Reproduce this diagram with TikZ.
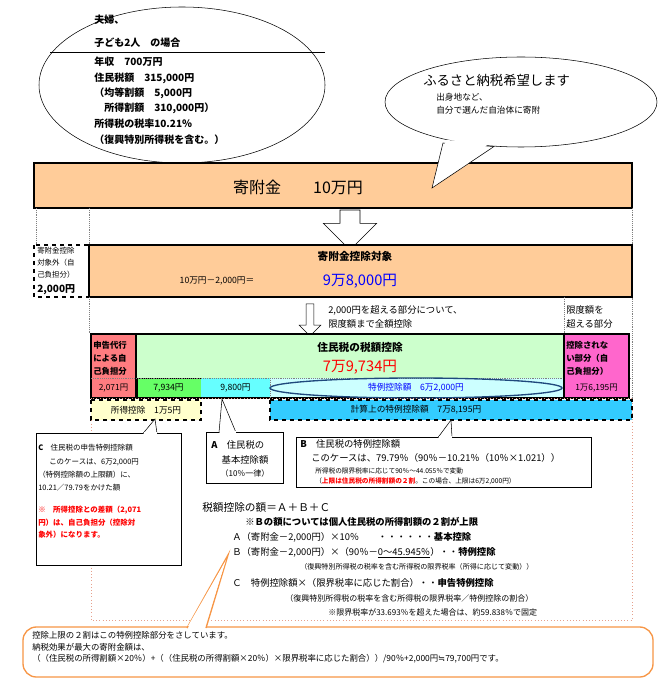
\documentclass[tikz,border=0pt]{standalone}
\usepackage{fontspec}
\setmainfont{Noto Sans CJK JP}
\newfontfamily\symfont{DejaVu Sans}
\usepackage{tikz}
\usetikzlibrary{shapes.arrows}
\definecolor{barorange}{HTML}{FFCC99}
\definecolor{taxgreen}{HTML}{CCFFCC}
\definecolor{midgreen}{HTML}{66FF66}
\definecolor{midcyan}{HTML}{66FFFF}
\definecolor{palecyan}{HTML}{CCFFFF}
\definecolor{skyblue}{HTML}{33CCFF}
\definecolor{ownred}{HTML}{FF7C80}
\definecolor{ownpink}{HTML}{FF66CC}
\definecolor{paleyellow}{HTML}{FFFFCC}
\definecolor{calloutorange}{HTML}{F79646}
\definecolor{rimred}{HTML}{E6A08C}
\begin{document}
\begin{tikzpicture}[x=0.75pt,y=-0.75pt,
  txt/.style={anchor=west,inner sep=0pt,font=\fontsize{7}{8}\selectfont},
  small/.style={anchor=west,inner sep=0pt,font=\fontsize{5.6}{6}\selectfont},
  mid/.style={anchor=center,inner sep=0pt,font=\fontsize{7.5}{8}\selectfont},
  cell/.style={draw,line width=0.4pt}]
\useasboundingbox (0,0) rectangle (664,680);
\fill[white] (0,0) rectangle (664,680);
% family ellipse
\draw (182,85) ellipse (143 and 78);
\draw (50,52) -- (325,52);
\node[txt,font=\fontsize{7.5}{8}\selectfont\bfseries] (fam1) at (94,20) {夫婦、};
\node[txt,font=\fontsize{7.5}{8}\selectfont\bfseries] (fam2) at (94,43) {子ども2人　の場合};
\node[txt,font=\fontsize{7.5}{8}\selectfont\bfseries] (fam3) at (94,62) {年収　700万円};
\node[txt,font=\fontsize{7.5}{8}\selectfont\bfseries] (fam4) at (94,78) {住民税額　315,000円};
\node[txt,font=\fontsize{7.5}{8}\selectfont\bfseries] (fam5) at (94,93) {（均等割額　5,000円};
\node[txt,font=\fontsize{7.5}{8}\selectfont\bfseries] (fam6) at (94,108) {\quad 所得割額　310,000円）};
\node[txt,font=\fontsize{7.5}{8}\selectfont\bfseries] (fam7) at (94,124) {所得税の税率10.21％};
\node[txt,font=\fontsize{7.5}{8}\selectfont\bfseries] (fam8) at (94,140) {（復興特別所得税を含む。）};
% donation bar
\draw[fill=barorange,line width=0.8pt] (34,163) rectangle (632,208);
\node[mid,font=\fontsize{12}{13}\selectfont] (gift) at (298,187) {寄附金\qquad 10万円};
% wish callout
\draw[fill=white] (443,143) -- (432,188) -- (494,146.5) -- cycle;
\draw[fill=white] (521,102) ellipse (136 and 45);
\fill[white] (446,140) -- (434,183) -- (490,143) -- cycle;
\node[txt,font=\fontsize{10}{11}\selectfont] (wish) at (423,80) {ふるさと納税希望します};
\node[small,font=\fontsize{6.5}{7}\selectfont] (wish1) at (436,97) {出身地など、};
\node[small,font=\fontsize{6.5}{7}\selectfont] (wish2) at (436,110) {自分で選んだ自治体に寄附};
\draw[densely dotted,gray] (36,208) -- (36,245) (89,208) -- (89,245) (632,208) -- (632,400);
\node[single arrow,draw,fill=white,shape border rotate=270,minimum height=30pt,minimum width=40pt,single arrow head extend=7pt,inner sep=4pt] (down1) at (350,225) {};
% deduction target
\draw[dashed,line width=1pt,fill=white] (34,245) rectangle (89,297);
\node[small] (out1) at (37,251) {寄附金控除};
\node[small] (out2) at (37,263) {対象外（自};
\node[small] (out3) at (37,275) {己負担分）};
\node[txt,font=\fontsize{7.5}{8}\selectfont\bfseries] (out4) at (37,290) {2,000円};
\draw[fill=barorange,line width=0.8pt] (89,245) rectangle (632,297);
\node[mid,font=\fontsize{8}{9}\selectfont\bfseries] (target) at (355,256) {寄附金控除対象};
\node[mid,font=\fontsize{6.5}{7}\selectfont] (calc) at (217,281) {10万円－2,000円＝};
\node[mid,font=\fontsize{11}{12}\selectfont,text=blue] (net) at (360,281) {9万8,000円};
\draw[densely dotted,gray] (89,297) -- (89,334) (564,297) -- (564,334);
\node[single arrow,draw,fill=white,shape border rotate=270,minimum height=24pt,minimum width=16pt,single arrow head extend=4pt,inner sep=2pt] (down2) at (310,318) {};
\node[txt] (over1) at (328,310) {2,000円を超える部分について、};
\node[txt] (over2) at (328,324) {限度額まで全額控除};
\node[txt] (lim1) at (566,310) {限度額を};
\node[txt] (lim2) at (566,324) {超える部分};
% tax credit row
\draw[fill=ownred,line width=0.8pt] (91,334) rectangle (136,398);
\node[small,font=\fontsize{6.3}{7}\selectfont\bfseries] (self1) at (93,345) {申告代行};
\node[small,font=\fontsize{6.3}{7}\selectfont\bfseries] (self2) at (93,358) {による自};
\node[small,font=\fontsize{6.3}{7}\selectfont\bfseries] (self3) at (93,371) {己負担分};
\node[mid,font=\fontsize{6.3}{7}\selectfont] (selfv) at (113.5,388) {2,071円};
\draw[fill=taxgreen,line width=1.2pt] (136,334) rectangle (564,398);
\node[mid,font=\fontsize{8}{9}\selectfont\bfseries] (credit) at (360,347) {住民税の税額控除};
\node[mid,font=\fontsize{11}{12}\selectfont,text=red] (creditv) at (360,367) {7万9,734円};
\draw[fill=midgreen] (137,378) rectangle (201,397);
\draw[fill=midcyan,draw=none] (201,378) rectangle (270,397);
\draw[fill=palecyan,draw=none] (270,378) rectangle (563,397);
\draw[densely dotted,gray] (91,378) -- (632,378) (270,378) -- (270,397);
\node[mid,font=\fontsize{6.5}{7}\selectfont] (inc) at (168.5,388) {7,934円};
\node[mid,font=\fontsize{6.5}{7}\selectfont] (basic) at (235.5,388) {9,800円};
\draw[draw={rgb,255:red,31;green,73;blue,125},line width=1pt] (416,388) ellipse (146 and 10);
\node[mid,font=\fontsize{6.5}{7}\selectfont,text=blue] (special) at (416,388) {特例控除額　6万2,000円};
\draw[fill=ownpink,line width=0.8pt] (564,334) rectangle (629,398);
\node[small,font=\fontsize{6.3}{7}\selectfont\bfseries] (rest1) at (566,345) {控除されな};
\node[small,font=\fontsize{6.3}{7}\selectfont\bfseries] (rest2) at (566,358) {い部分（自};
\node[small,font=\fontsize{6.3}{7}\selectfont\bfseries] (rest3) at (566,371) {己負担分）};
\node[mid,font=\fontsize{6.3}{7}\selectfont] (restv) at (596.5,388) {1万6,195円};
% lower row
\draw[dotted,rimred] (91,398) rectangle (632,620);
\draw[dashed,line width=1pt,fill=paleyellow] (91,400) rectangle (201,420);
\node[mid,font=\fontsize{6.5}{7}\selectfont] (incded) at (146,410) {所得控除　1万5円};
\draw[dashed,line width=1pt,fill=skyblue] (270,400) rectangle (632,420);
\node[mid,font=\fontsize{6.5}{7}\selectfont] (calcsp) at (416,410) {計算上の特例控除額　7万8,195円};
% callout C
\draw[fill=white] (36,433) rectangle (181,565);
\draw[fill=white] (143,433.5) -- (155,419) -- (157,433.5);
\fill[white] (143.5,432) rectangle (156.5,434);
\node[small] (c1) at (38,448) {\textbf{C}\quad 住民税の申告特例控除額};
\node[small] (c2) at (49,462) {このケースは、6万2,000円};
\node[small] (c3) at (38,475) {（特例控除額の上限額）に、};
\node[small] (c4) at (38,488) {10.21／79.79をかけた額};
\node[small,text=red,font=\fontsize{5.6}{6}\selectfont\bfseries] (c5) at (38,510) {※　所得控除との差額（2,071};
\node[small,text=red,font=\fontsize{5.6}{6}\selectfont\bfseries] (c6) at (38,523) {円）は、自己負担分（控除対};
\node[small,text=red,font=\fontsize{5.6}{6}\selectfont\bfseries] (c7) at (38,535) {象外）になります。};
% callout A
\draw[fill=white] (206,432) rectangle (283,483);
\draw[fill=white] (219,432.5) -- (222,399) -- (236,432.5);
\fill[white] (219.5,431) rectangle (235.5,433);
\node[txt] (a1) at (211,445) {\textbf{A}\quad 住民税の};
\node[mid,font=\fontsize{7}{8}\selectfont] (a2) at (245,460) {基本控除額};
\node[mid,font=\fontsize{6}{7}\selectfont] (a3) at (245,473) {（10％一律）};
% callout B
\draw[fill=white] (296,437) rectangle (591,487);
\draw[fill=white] (438,437.5) -- (451,420) -- (452,437.5);
\fill[white] (438.5,436) rectangle (451.5,438.5);
\node[txt] (b1) at (300,444) {\textbf{B}\quad 住民税の特例控除額};
\node[txt] (b2) at (311,458) {このケースは、79.79％（90％－10.21％（10％×1.021））};
\node[small,font=\fontsize{5}{6}\selectfont] (b3) at (315,471) {所得税の限界税率に応じて90％～44.055％で変動};
\node[small,font=\fontsize{5}{6}\selectfont] (b4) at (315,481) {（\textcolor{red}{\bfseries 上限は住民税の所得割額の２割}。この場合、上限は6万2,000円）};
% formula
\node[txt,font=\fontsize{8}{9}\selectfont] (sum) at (202,507) {税額控除の額＝Ａ＋Ｂ＋Ｃ};
\node[txt,font=\fontsize{7}{8}\selectfont\bfseries] (cap) at (245,522) {※Ｂの額については個人住民税の所得割額の２割が上限};
\node[txt] (fa) at (232,537) {Ａ（寄附金－2,000円）×10％\qquad ・・・・・・\textbf{基本控除}};
\node[txt] (fb) at (232,553) {Ｂ（寄附金－2,000円）×（90％－\underline{0～45.945％}）・・\textbf{特例控除}};
\node[small,font=\fontsize{5.3}{6}\selectfont] (fb2) at (300,567) {（復興特別所得税の税率を含む所得税の限界税率（所得に応じて変動））};
\node[txt] (fc) at (232,583) {Ｃ　特例控除額×（限界税率に応じた割合）・・\textbf{申告特例控除}};
\node[small,font=\fontsize{6}{7}\selectfont] (fc2) at (285,598) {（復興特別所得税の税率を含む所得税の限界税率／特例控除の割合）};
\node[small,font=\fontsize{6}{7}\selectfont] (fc3) at (328,612) {※限界税率が33.693％を超えた場合は、約59.838％で固定};
% note callout
\draw[calloutorange,line width=1pt,fill=white,rounded corners=10pt] (23,627) rectangle (653,677);
\draw[calloutorange,line width=1pt,fill=white] (187,628) -- (228,555) -- (206,628);
\fill[white] (188,626) -- (226,560) -- (205,626) -- cycle;
\node[small,font=\fontsize{6.3}{7}\selectfont] (n1) at (32,635) {控除上限の２割はこの特例控除部分をさしています。};
\node[small,font=\fontsize{6.3}{7}\selectfont] (n2) at (32,647) {納税効果が最大の寄附金額は、};
\node[small,font=\fontsize{6.3}{7}\selectfont] (n3) at (32,659) {（（住民税の所得割額×20％）+（（住民税の所得割額×20％）×限界税率に応じた割合））/90％+2,000円{\symfont ≒}79,700円です。};
\end{tikzpicture}
\end{document}
